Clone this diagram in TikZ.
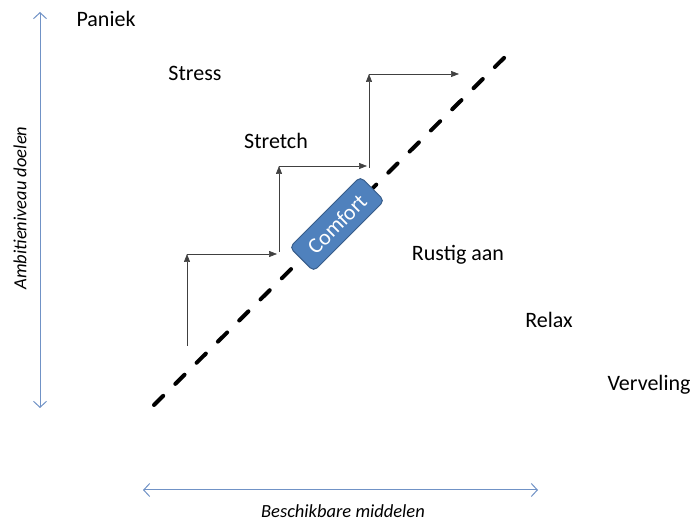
\documentclass[tikz,border=0pt]{standalone}
\usepackage{fontspec}
\setmainfont{Carlito}
\usetikzlibrary{arrows.meta}
\definecolor{axisblue}{RGB}{112,146,198}
\definecolor{comfortfill}{RGB}{79,129,189}
\definecolor{comfortdraw}{RGB}{56,93,138}
\begin{document}
\begin{tikzpicture}[x=1pt,y=-1pt,
  lbl/.style={font=\fontsize{22}{26}\selectfont, inner sep=0pt, anchor=center},
  axlbl/.style={font=\fontsize{18.5}{22}\selectfont\itshape, inner sep=0pt, anchor=center},
  axisline/.style={draw=axisblue, line width=1pt, {Straight Barb[length=6pt,width=13pt]}-{Straight Barb[length=6pt,width=13pt]}},
  stepar/.style={draw=black!75, line width=0.6pt, -{Triangle[length=8pt,width=6pt]}},
  diag/.style={draw=black, line width=4pt, line cap=round, dash pattern=on 13pt off 17pt},
  comfortbox/.style={draw=comfortdraw, line width=1pt, fill=comfortfill, rounded corners=5pt,
    minimum width=100pt, minimum height=34pt, text=white, font=\fontsize{22}{26}\selectfont, inner sep=0pt}
]
\useasboundingbox (0,0) rectangle (694,526);

% axes
\coordinate (vtop) at (40,12);
\coordinate (vbot) at (40,408);
\coordinate (hleft) at (143,490);
\coordinate (hright) at (538,490);
\draw[axisline] (vbot) -- (vtop);
\draw[axisline] (hleft) -- (hright);
\node[axlbl, rotate=90] (ylab) at (20,208) {Ambitieniveau doelen};
\node[axlbl] (xlab) at (343,511) {Beschikbare middelen};

% diagonal dashed line
\coordinate (dA) at (154,405);
\coordinate (dB) at (510,52);
\draw[diag] (dA) -- (dB);

% comfort box
\node[comfortbox, rotate=45] (comfort) at (337,224) {Comfort};

% step arrows
\coordinate (s0) at (187,346);
\coordinate (s1) at (187,254);
\coordinate (s2) at (277,254);
\coordinate (s3) at (279,252);
\coordinate (s4) at (279,166);
\coordinate (s5) at (367,166);
\coordinate (s6) at (369,168);
\coordinate (s7) at (369,74);
\coordinate (s8) at (459,74);
\draw[stepar] (s0) -- (s1);
\draw[stepar] (s1) -- (s2);
\draw[stepar] (s3) -- (s4);
\draw[stepar] (s4) -- (s5);
\draw[stepar] (s6) -- (s7);
\draw[stepar] (s7) -- (s8);

% labels
\node[lbl] (paniek) at (106,19) {Paniek};
\node[lbl] (stress) at (195,73) {Stress};
\node[lbl] (stretch) at (276,141) {Stretch};
\node[lbl] (rustig) at (458,255) {Rustig aan};
\node[lbl] (relax) at (549,320) {Relax};
\node[lbl] (verveling) at (649,385) {Verveling};
\end{tikzpicture}
\end{document}
